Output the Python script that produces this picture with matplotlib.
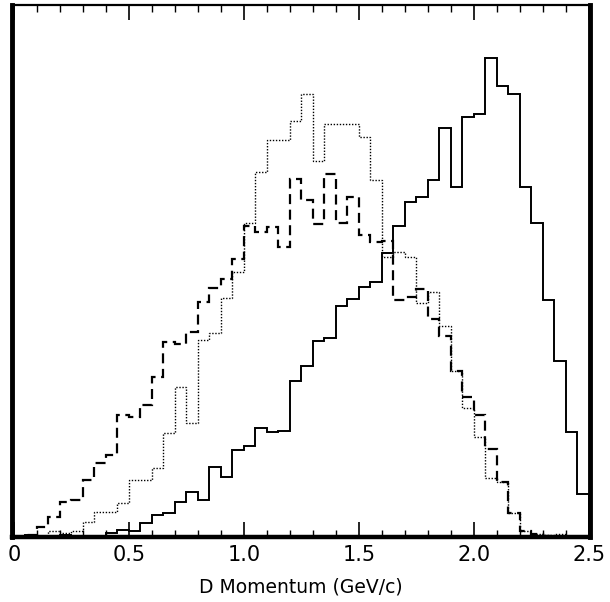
import numpy as np
import matplotlib
matplotlib.use("Agg")
import matplotlib.pyplot as plt
from matplotlib.ticker import MultipleLocator

# Bin edges in GeV/c (50 bins of 0.05)
bin_edges = np.linspace(0.0, 2.5, 51)

solid = [0, 2, 1, 0, 2, 0, 0, 1, 4, 7,
         6, 14, 22, 24, 35, 45, 37, 70, 60, 87,
         91, 109, 105, 106, 156, 171, 196, 199, 231, 238,
         250, 255, 284, 311, 335, 340, 357, 409, 350, 420,
         423, 479, 451, 443, 350, 314, 237, 176, 105, 43]

dashed = [0, 2, 10, 20, 35, 37, 57, 74, 82, 122,
          120, 132, 160, 195, 193, 205, 235, 249, 258, 278,
          311, 305, 310, 290, 358, 337, 313, 363, 314, 340,
          302, 295, 296, 237, 240, 248, 218, 201, 166, 140,
          122, 88, 55, 24, 6, 3, 1, 0, 0, 0]

dotted = [0, 1, 0, 6, 4, 6, 15, 25, 25, 34,
          57, 57, 69, 104, 150, 114, 197, 204, 239, 265,
          314, 365, 397, 397, 416, 443, 376, 413, 413, 413,
          400, 357, 280, 285, 280, 234, 245, 211, 166, 129,
          100, 59, 55, 24, 6, 3, 2, 3, 0, 0]

tick_values = [0, 0.5, 1.0, 1.5, 2.0, 2.5]
tick_labels = ["0", "0.5", "1.0", "1.5", "2.0", "2.5"]
x_label = "D Momentum (GeV/c)"

fig = plt.figure(figsize=(6.10, 6.02), dpi=100)
ax = fig.add_axes([12/610, 65/602, 578/610, 532/602])

ax.stairs(dotted, bin_edges, color="black", linewidth=1.0, linestyle=(0, (1, 1.2)))
ax.stairs(dashed, bin_edges, color="black", linewidth=1.6, linestyle=(0, (4.5, 2.5)))
ax.stairs(solid, bin_edges, color="black", linewidth=1.4)

ax.set_xlim(-0.008, 2.505)
ax.set_ylim(0, 532)

ax.set_xticks(tick_values)
ax.set_xticklabels(tick_labels, fontsize=15)
ax.xaxis.set_minor_locator(MultipleLocator(0.1))
ax.tick_params(axis="x", which="major", direction="in", length=11, width=1.2,
               top=True, bottom=True, pad=6)
ax.tick_params(axis="x", which="minor", direction="in", length=5, width=1.0,
               top=True, bottom=True)
ax.set_yticks([])

for side, lw in [("left", 3.5), ("right", 3.5), ("bottom", 3.2), ("top", 1.6)]:
    ax.spines[side].set_linewidth(lw)

ax.set_xlabel(x_label, fontsize=13.5, labelpad=9)

fig.savefig("out.png", dpi=100)
